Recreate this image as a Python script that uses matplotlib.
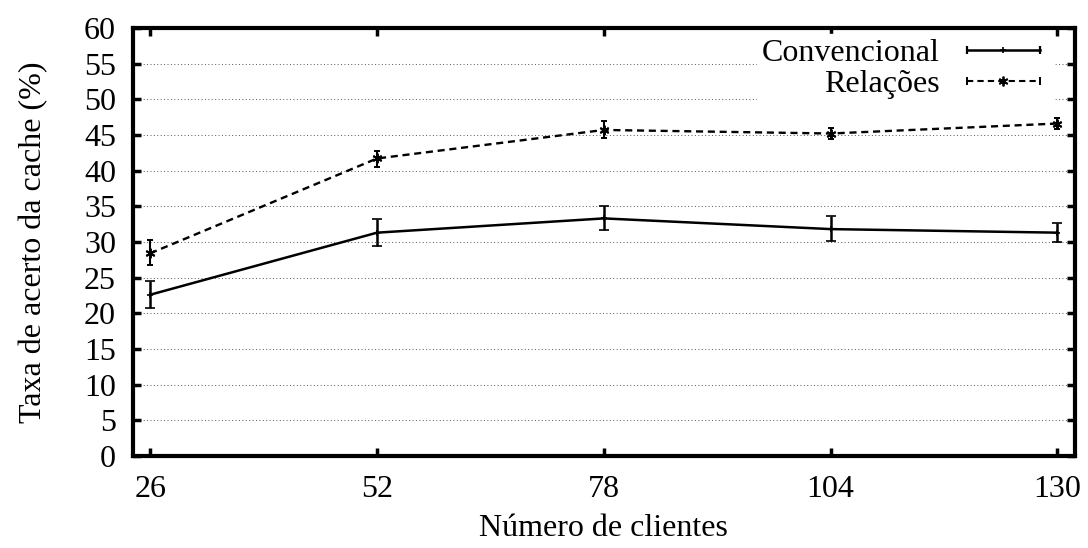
import matplotlib
matplotlib.use('Agg')
import matplotlib.pyplot as plt
from matplotlib.lines import Line2D
from matplotlib.legend_handler import HandlerLine2D, HandlerTuple
import numpy as np

plt.rcParams['font.family'] = ['Liberation Serif', 'DejaVu Serif']

# Data
clients = [26, 52, 78, 104, 130]
conv_mean = [22.6, 31.3, 33.3, 31.8, 31.3]
conv_low = [20.8, 29.5, 31.7, 30.2, 30.0]
conv_high = [24.5, 33.2, 35.0, 33.6, 32.6]
rel_mean = [28.4, 41.7, 45.7, 45.2, 46.6]
rel_low = [26.8, 40.5, 44.6, 44.4, 45.8]
rel_high = [30.3, 42.8, 47.0, 46.0, 47.4]

yticks = np.arange(0, 61, 5)
fs = 23

fig = plt.figure(figsize=(10.88, 5.48), dpi=100)
ax = fig.add_axes([0.122, 0.168, 0.866, 0.781])

conv_err = [np.subtract(conv_mean, conv_low), np.subtract(conv_high, conv_mean)]
rel_err = [np.subtract(rel_mean, rel_low), np.subtract(rel_high, rel_mean)]

ax.errorbar(clients, conv_mean, yerr=conv_err, color='black', lw=1.8,
            marker='+', ms=5, mew=1.2, capsize=3.5, capthick=1.8,
            elinewidth=1.8, zorder=3)
ax.errorbar(clients, rel_mean, yerr=rel_err, color='black', lw=1.7,
            ls=(0, (3, 2)), marker=(6, 2, 0), ms=7, mew=1.4, capsize=2.5,
            capthick=1.5, elinewidth=1.5, zorder=3)

# gnuplot-style dotted grid
for yv in yticks[1:-1]:
    ax.axhline(yv, color='#555555', lw=0.7, ls=(0, (1, 2.5)), zorder=1)

ax.set_xlim(24, 132)
ax.set_ylim(0, 60)
ax.set_xticks(clients)
ax.set_yticks(yticks)
ax.tick_params(direction='in', length=6, width=2.5, labelsize=fs,
               top=True, right=True, pad=14)
ax.tick_params(axis='y', pad=12)
for s in ax.spines.values():
    s.set_linewidth(3)

ax.set_xlabel('Número de clientes', fontsize=fs, labelpad=7)
ax.set_ylabel('Taxa de acerto da cache (%)', fontsize=fs, labelpad=26)

# legend handles like gnuplot: horizontal line with end caps and a point
conv_line = Line2D([], [], color='black', lw=1.8, marker='|', ms=6, mew=1.6)
conv_pt = Line2D([], [], color='black', lw=0, marker='+', ms=5, mew=1.2)
rel_line = Line2D([], [], color='black', lw=1.5, ls=(0, (3, 2)),
                  marker='|', ms=6, mew=1.4)
rel_pt = Line2D([], [], color='black', lw=0, marker=(6, 2, 0), ms=7, mew=1.3)
hmap = {conv_line: HandlerLine2D(numpoints=2),
        rel_line: HandlerLine2D(numpoints=2),
        conv_pt: HandlerLine2D(numpoints=1),
        rel_pt: HandlerLine2D(numpoints=1),
        tuple: HandlerTuple(ndivide=1)}
leg = ax.legend([(conv_line, conv_pt), (rel_line, rel_pt)],
                ['Convencional', 'Relações'], loc='upper right',
                bbox_to_anchor=(0.985, 1.0), markerfirst=False, fontsize=fs,
                handlelength=2.9, handletextpad=0.55, labelspacing=0.05,
                frameon=True, fancybox=False, borderpad=0.15,
                borderaxespad=0.2, handler_map=hmap)
leg.get_frame().set_facecolor('white')
leg.get_frame().set_edgecolor('white')
leg.get_frame().set_alpha(1)
leg.set_zorder(2)

fig.savefig('out.png', dpi=100)
